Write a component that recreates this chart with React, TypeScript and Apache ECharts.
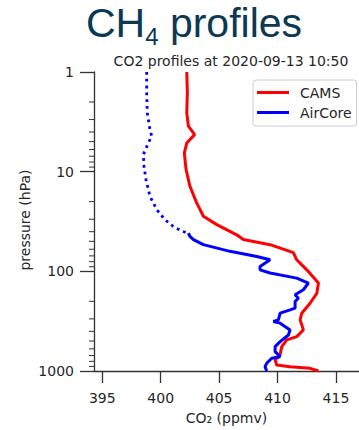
import React, { useEffect, useRef } from "react";
import * as echarts from "echarts";

const pressureTicks = [1, 10, 100, 1000];
const minorPressureTicks = [2, 3, 4, 5, 6, 7, 8, 9, 20, 30, 40, 50, 60, 70, 80, 90, 200, 300, 400, 500, 600, 700, 800, 900];
const co2Ticks = [395, 400, 405, 410, 415];

const camsCO2 = [402.23, 402.28, 402.23, 402.37, 402.9, 402.23, 402.02, 402.17, 402.5, 403.08, 403.65, 404.8, 406.5, 407.07, 409.36, 411.35, 411.64, 412.5, 413.5, 413.36, 412.78, 412.07, 411.93, 412.21, 411.64, 410.79, 410.36, 410.21, 409.79, 409.93, 411.07, 412.78, 413.5];
const camsPressure = [1, 1.62, 2.57, 3.5, 4.25, 5.15, 6.5, 9.55, 14, 20.6, 28, 34, 43, 48, 54, 65, 76.6, 96.6, 131, 166, 209, 263, 307, 387, 452, 488, 570, 690, 775, 870, 905, 940, 1000];

const aircoreUpperCO2 = [398.8, 398.8, 398.85, 399.08, 399.23, 398.94, 398.51, 398.57, 398.74, 399.08, 399.66, 400.37, 401.08, 401.88, 402.37];
const aircoreUpperPressure = [1, 1.62, 2.57, 3.78, 4.4, 5.15, 6.75, 8.85, 12, 17.7, 24, 30.4, 35.5, 39.8, 41.3];

const aircoreCO2 = [402.37, 402.5, 402.8, 403.65, 405.93, 408.22, 409.36, 408.5, 408.5, 409.36, 411.64, 412.64, 412.21, 411.5, 411.78, 411.5, 411.5, 411.07, 410.22, 410.07, 409.64, 410.22, 411.07, 410.93, 410.22, 409.79, 409.79, 410.22, 409.5, 409.07, 408.93, 409.07];
const aircorePressure = [41.3, 44.7, 48, 54, 63, 71, 76.6, 89.5, 96.6, 104, 117, 131, 153, 172, 186, 201, 234, 244, 263, 307, 319, 331, 387, 435, 507, 570, 640, 718, 745, 837, 905, 1000];

const X_MIN = 394.29;
const X_MAX = 416.97;

const zip = (xs: number[], ys: number[]) => xs.map((x, i) => [x, ys[i]]);

const AXIS_FONT = '"DejaVu Sans", sans-serif';
const TEXT_COLOR = "#262626";
const TITLE_COLOR = "#0b3954";
const AXIS_COLOR = "#333333";

export default function App() {
  const ref = useRef<HTMLDivElement>(null);
  useEffect(() => {
    document.body.style.margin = "0";
    const chart = echarts.init(ref.current!, null, { renderer: "svg" });
    const option: any = {
      animation: false,
      backgroundColor: "#ffffff",
      graphic: [
        {
          type: "text",
          x: 86,
          y: 22.5,
          style: { text: "CH", font: '41px "Liberation Sans"', fill: TITLE_COLOR, textAlign: "left", textVerticalAlign: "middle", align: "left", verticalAlign: "middle" },
        },
        {
          type: "text",
          x: 145.2,
          y: 36.7,
          style: { text: "4", font: '24px "Liberation Sans"', fill: TITLE_COLOR, textAlign: "left", textVerticalAlign: "middle", align: "left", verticalAlign: "middle" },
        },
        {
          type: "text",
          x: 158.5,
          y: 22.5,
          style: { text: " profiles", font: '41px "Liberation Sans"', fill: TITLE_COLOR, textAlign: "left", textVerticalAlign: "middle", align: "left", verticalAlign: "middle" },
        },
        {
          type: "text",
          x: 231,
          y: 61.2,
          style: { text: "CO2 profiles at 2020-09-13 10:50", font: '14px "DejaVu Sans"', fill: TEXT_COLOR, textAlign: "center", textVerticalAlign: "middle", align: "center", verticalAlign: "middle" },
        },
        {
          type: "text",
          x: 25,
          y: 220,
          rotation: Math.PI / 2,
          style: { text: "pressure (hPa)", font: '14px "DejaVu Sans"', fill: TEXT_COLOR, textAlign: "center", textVerticalAlign: "middle", align: "center", verticalAlign: "middle" },
        },
      ],
      legend: {
        data: ["CAMS", "AirCore"],
        orient: "vertical",
        left: 253,
        top: 80,
        padding: [4, 5, 5, 4],
        itemGap: 3,
        itemWidth: 32,
        itemHeight: 3,
        icon: "rect",
        backgroundColor: "rgba(255,255,255,0.8)",
        borderColor: "#cccccc",
        borderWidth: 1,
        borderRadius: 3,
        textStyle: { fontFamily: AXIS_FONT, fontSize: 14, color: TEXT_COLOR, padding: [0, 0, 0, 6], lineHeight: 17 },
      },
      grid: { left: 94, right: 0, top: 72, bottom: 59, containLabel: false },
      xAxis: {
        type: "value",
        min: X_MIN,
        max: X_MAX,
        name: "CO₂ (ppmv)",
        nameLocation: "middle",
        nameGap: 40,
        nameTextStyle: { fontFamily: AXIS_FONT, fontSize: 14, color: TEXT_COLOR },
        splitLine: { show: false },
        axisLine: { show: true, lineStyle: { color: AXIS_COLOR, width: 1.3 } },
        axisTick: { show: true, inside: false, length: 12, customValues: co2Ticks, lineStyle: { color: AXIS_COLOR, width: 1.3 } },
        axisLabel: { customValues: co2Ticks, margin: 20, fontFamily: AXIS_FONT, fontSize: 14, color: TEXT_COLOR, formatter: (v: number) => String(v) },
      },
      yAxis: {
        type: "log",
        logBase: 10,
        min: 1,
        max: 1000,
        inverse: true,
        position: "left",
        splitLine: { show: false },
        axisLine: { show: true, lineStyle: { color: AXIS_COLOR, width: 1.3 } },
        axisTick: { show: true, inside: false, length: 14, customValues: pressureTicks, lineStyle: { color: AXIS_COLOR, width: 1.3 } },
        axisLabel: { customValues: pressureTicks, margin: 20, fontFamily: AXIS_FONT, fontSize: 14, color: TEXT_COLOR, formatter: (v: number) => String(Math.round(v)) },
      },
      series: [
        {
          name: "CAMS",
          type: "line",
          data: zip(camsCO2, camsPressure),
          showSymbol: false,
          symbol: "none",
          color: "#ff0000",
          lineStyle: { color: "#ff0000", width: 3 },
          z: 3,
        },
        {
          name: "AirCore",
          type: "line",
          data: zip(aircoreCO2, aircorePressure),
          showSymbol: false,
          symbol: "none",
          color: "#0000ff",
          lineStyle: { color: "#0000ff", width: 3 },
          z: 4,
        },
        {
          name: "AirCore (upper)",
          type: "line",
          data: zip(aircoreUpperCO2, aircoreUpperPressure),
          showSymbol: false,
          symbol: "none",
          color: "#0000ff",
          lineStyle: { color: "#0000ff", width: 2.8, type: [2.8, 4], cap: "butt" },
          z: 4,
        },
        {
          name: "minor ticks",
          type: "custom",
          clip: false,
          silent: true,
          z: 5,
          data: minorPressureTicks.map((p) => [X_MIN, p]),
          encode: { x: 0, y: 1 },
          renderItem: (params: any, api: any) => {
            const pt = api.coord([api.value(0), api.value(1)]);
            return {
              type: "line",
              shape: { x1: pt[0] - 5, y1: pt[1], x2: pt[0], y2: pt[1] },
              style: { stroke: AXIS_COLOR, lineWidth: 1 },
            };
          },
        },
      ],
    };
    chart.setOption(option);
    return () => chart.dispose();
  }, []);
  return <div ref={ref} style={{ width: 359, height: 430 }} />;
}
